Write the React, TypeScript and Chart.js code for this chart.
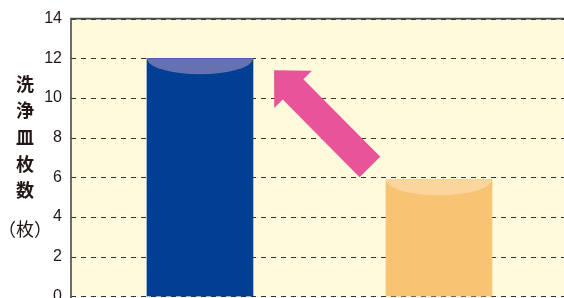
import React, { useEffect, useRef } from 'react';
import { Chart, registerables } from 'chart.js';

Chart.register(...registerables);

// ---- data ----
const categories = ['導入前', '導入後'];
const values = [12, 5.9];
const barColors = ['#003F94', '#F8C373'];
const capColors = ['#6571B1', '#FBD69C'];
const yTickMin = 0;
const yTickMax = 14;
const yTickStep = 2;
const titleChars = ['洗', '浄', '皿', '枚', '数'];
const unitLabel = '（枚）';
// arrow in data coordinates (x = category index, y = value)
const arrowTail = [0.711, 6.52];
const arrowTip = [0.31, 11.4];

const decorPlugin = {
  id: 'decor',
  beforeDraw(chart: any) {
    const { ctx, chartArea: a } = chart;
    ctx.save();
    ctx.fillStyle = '#FFFADC';
    ctx.fillRect(a.left, a.top, a.right - a.left, a.bottom - a.top);
    ctx.restore();
  },
  beforeDatasetsDraw(chart: any) {
    const { ctx, chartArea: a } = chart;
    const ys = chart.scales.y;
    ctx.save();
    ctx.strokeStyle = '#333';
    ctx.lineWidth = 1;
    ctx.setLineDash([5, 5]);
    ys.ticks.forEach((t: any) => {
      const py = Math.round(ys.getPixelForValue(t.value)) + 0.5;
      ctx.beginPath();
      ctx.moveTo(a.left, py);
      ctx.lineTo(a.right, py);
      ctx.stroke();
    });
    ctx.restore();
  },
  afterDatasetsDraw(chart: any) {
    const { ctx, chartArea: a } = chart;
    const meta = chart.getDatasetMeta(0);
    meta.data.forEach((el: any, i: number) => {
      const { x, y, base, width } = el.getProps(['x', 'y', 'base', 'width'], true);
      ctx.save();
      ctx.beginPath();
      ctx.rect(x - width / 2, y, width, base - y);
      ctx.clip();
      ctx.beginPath();
      ctx.ellipse(x, y, width / 2, 16, 0, 0, Math.PI * 2);
      ctx.fillStyle = capColors[i];
      ctx.fill();
      ctx.restore();
    });

    // arrow
    const xs = chart.scales.x;
    const ys = chart.scales.y;
    const tx = xs.getPixelForValue(arrowTail[0]);
    const ty = ys.getPixelForValue(arrowTail[1]);
    const hx = xs.getPixelForValue(arrowTip[0]);
    const hy = ys.getPixelForValue(arrowTip[1]);
    const len = Math.hypot(hx - tx, hy - ty);
    const dx = (hx - tx) / len;
    const dy = (hy - ty) / len;
    const px = -dy;
    const py = dx;
    const headLen = 27;
    const headW = 53;
    const shaftW = 29;
    const bx = hx - dx * headLen;
    const by = hy - dy * headLen;
    ctx.save();
    ctx.fillStyle = '#E8539A';
    ctx.beginPath();
    ctx.moveTo(tx + px * shaftW / 2, ty + py * shaftW / 2);
    ctx.lineTo(bx + px * shaftW / 2, by + py * shaftW / 2);
    ctx.lineTo(bx + px * headW / 2, by + py * headW / 2);
    ctx.lineTo(hx, hy);
    ctx.lineTo(bx - px * headW / 2, by - py * headW / 2);
    ctx.lineTo(bx - px * shaftW / 2, by - py * shaftW / 2);
    ctx.lineTo(tx - px * shaftW / 2, ty - py * shaftW / 2);
    ctx.closePath();
    ctx.fill();
    ctx.restore();

    // frame (top + left)
    ctx.save();
    ctx.strokeStyle = '#4A4A4A';
    ctx.lineWidth = 1.6;
    ctx.beginPath();
    ctx.moveTo(a.left, a.bottom + 2);
    ctx.lineTo(a.left, a.top);
    ctx.lineTo(a.right, a.top);
    ctx.stroke();
    ctx.restore();
  },
  afterDraw(chart: any) {
    const { ctx } = chart;
    ctx.save();
    ctx.fillStyle = '#231815';
    ctx.textAlign = 'center';
    ctx.textBaseline = 'middle';
    ctx.font = 'bold 18px "Noto Sans CJK JP"';
    titleChars.forEach((c, i) => {
      ctx.fillText(c, 25, 84 + i * 26.6);
    });
    ctx.font = '18px "Noto Sans CJK JP"';
    ctx.fillText(unitLabel, 25, 229);
    ctx.restore();
  },
};

export default function App() {
  const ref = useRef<HTMLCanvasElement | null>(null);
  useEffect(() => {
    if (!ref.current) return;
    const chart = new Chart(ref.current, {
      type: 'bar',
      data: {
        labels: categories,
        datasets: [
          {
            data: values.map((v, i) => ({ x: i, y: v })),
            backgroundColor: barColors,
            borderWidth: 0,
            barThickness: 106,
          },
        ],
      },
      options: {
        responsive: false,
        maintainAspectRatio: false,
        devicePixelRatio: 1,
        animation: false,
        layout: { padding: { top: 17, bottom: 13, left: 0, right: 0 } },
        plugins: { legend: { display: false }, tooltip: { enabled: false } },
        scales: {
          x: {
            type: 'linear',
            display: false,
            offset: false,
            min: -0.5397,
            max: 1.6737,
          },
          y: {
            min: yTickMin,
            max: yTickMax,
            grid: { display: false, drawTicks: false },
            border: { display: false },
            ticks: {
              stepSize: yTickStep,
              padding: 9,
              color: '#231815',
              font: { family: '"Liberation Sans", Arial, sans-serif', size: 16 },
            },
            afterFit: (scale: any) => {
              scale.width = 71;
            },
          },
        },
      },
      plugins: [decorPlugin],
    });
    return () => chart.destroy();
  }, []);
  return (
    <div
      style={{
        position: 'fixed',
        left: 0,
        top: 0,
        width: 564,
        height: 298,
        overflow: 'hidden',
        background: '#fff',
      }}
    >
      <canvas ref={ref} width={600} height={315} style={{ display: 'block' }} />
    </div>
  );
}
